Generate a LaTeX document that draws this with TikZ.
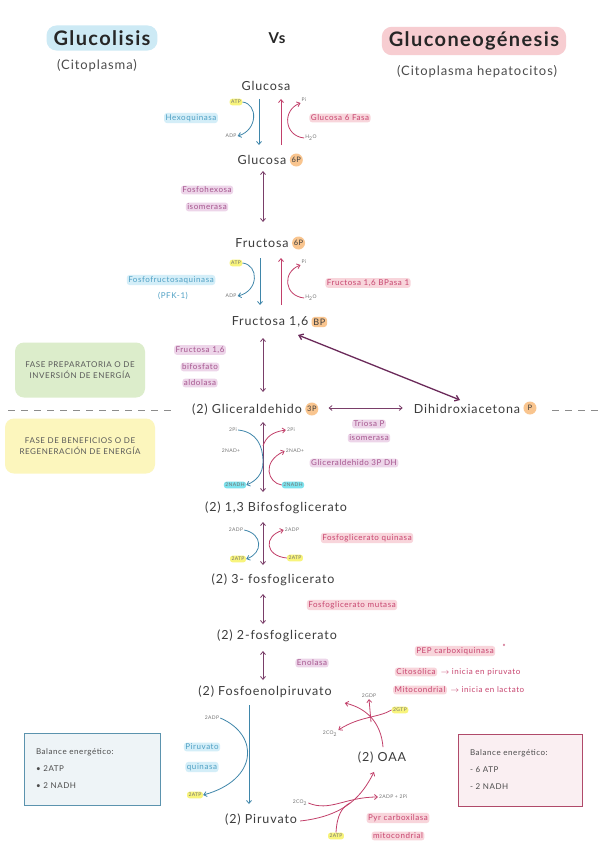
\documentclass[tikz,border=0pt]{standalone}
\usepackage{fontspec}
\setmainfont{Lato}[LetterSpace=7]
\usetikzlibrary{arrows.meta,calc}
\definecolor{tblue}{HTML}{CDEAF5}
\definecolor{tpink}{HTML}{F7CDD1}
\definecolor{mettx}{HTML}{3C3C3C}
\definecolor{bluehl}{HTML}{D4EEF8}
\definecolor{bluetx}{HTML}{4FA0C4}
\definecolor{pinkhl}{HTML}{F8D5DB}
\definecolor{pinktx}{HTML}{C7456F}
\definecolor{purhl}{HTML}{EDD5E9}
\definecolor{purtx}{HTML}{A5558E}
\definecolor{barrc}{HTML}{3F86AA}
\definecolor{rarrc}{HTML}{C2406A}
\definecolor{parrc}{HTML}{7A3E69}
\definecolor{diagc}{HTML}{6B2A5A}
\definecolor{orangec}{HTML}{F9C58F}
\definecolor{yellowhl}{HTML}{F8F47C}
\definecolor{cyanhl}{HTML}{7EE3EE}
\definecolor{greenblob}{HTML}{DCEDCB}
\definecolor{yellowblob}{HTML}{FCF6BD}
\definecolor{boxbl}{HTML}{5B93AE}
\definecolor{boxblf}{HTML}{EEF4F7}
\definecolor{boxrd}{HTML}{B04A6A}
\definecolor{boxrdf}{HTML}{FAEFF2}
\begin{document}
\begin{tikzpicture}[x=1pt,y=-1pt,
  title/.style={font=\bfseries\fontsize{20}{22}\selectfont, text=black!85, rounded corners=10pt, inner xsep=7pt, inner ysep=5pt},
  sub/.style={font=\fontsize{13}{15}\selectfont, text=black!70},
  met/.style={font=\fontsize{12.5}{14}\selectfont, text=mettx, inner sep=1pt},
  phos/.style={circle, fill=orangec, inner sep=0.3pt, minimum size=13pt, font=\fontsize{7.5}{8}\selectfont, text=mettx, anchor=west},
  phosr/.style={rectangle, rounded corners=3pt, fill=orangec, inner sep=1.8pt, font=\fontsize{9}{9}\selectfont, text=mettx, anchor=west},
  enzb/.style={fill=bluehl, text=bluetx, rounded corners=3pt, inner sep=1.5pt, font=\fontsize{8}{9}\selectfont},
  enzp/.style={fill=pinkhl, text=pinktx, rounded corners=3pt, inner sep=1.5pt, font=\fontsize{8}{9}\selectfont},
  enzv/.style={fill=purhl, text=purtx, rounded corners=3pt, inner sep=1.5pt, font=\fontsize{8}{9}\selectfont},
  tiny/.style={font=\fontsize{5}{5.5}\selectfont, text=black!55, inner sep=1pt},
  atpl/.style={tiny, fill=yellowhl, rounded corners=2.5pt, inner sep=1.5pt},
  nadhl/.style={tiny, fill=cyanhl, rounded corners=2.5pt, inner sep=1.5pt},
  phase/.style={font=\fontsize{8}{11}\selectfont, text=black!65, align=center, rounded corners=9pt},
  barr/.style={draw=barrc, line width=0.8pt, -{Straight Barb[length=3pt,width=5pt]}},
  rarr/.style={draw=rarrc, line width=0.8pt, -{Straight Barb[length=3pt,width=5pt]}},
  rline/.style={draw=rarrc, line width=0.8pt},
  parr/.style={draw=parrc, line width=0.8pt, {Straight Barb[length=3pt,width=5pt]}-{Straight Barb[length=3pt,width=5pt]}},
  darr/.style={draw=diagc, line width=1.3pt, {Straight Barb[length=4pt,width=6pt]}-{Straight Barb[length=4pt,width=6pt]}},
  balbox/.style={line width=1pt, minimum height=72pt, text width=112pt, align=left, font=\fontsize{8}{17}\selectfont, text=black!70, inner xsep=12pt}
]
\useasboundingbox (0,0) rectangle (600,848);
\fill[white] (0,0) rectangle (600,848);

% titles
\node[title, fill=tblue] (tgl) at (102,38) {Glucolisis};
\node[font=\bfseries\fontsize{15}{17}\selectfont, text=black!85] (vs) at (277,38) {Vs};
\node[title, fill=tpink] (tgn) at (474,41) {Gluconeogénesis};
\node[sub] (c1) at (97,66) {(Citoplasma)};
\node[sub] (c2) at (477,72) {(Citoplasma hepatocitos)};

% phase blobs
\node[phase, fill=greenblob, minimum width=130pt, minimum height=55pt] (ph1) at (80,370) {FASE PREPARATORIA O DE\\INVERSIÓN DE ENERGÍA};
\node[phase, fill=yellowblob, minimum width=150pt, minimum height=55pt] (ph2) at (80,446) {FASE DE BENEFICIOS O DE\\REGENERACIÓN DE ENERGÍA};

% dashed divider
\draw[black!45, line width=0.8pt, dash pattern=on 7pt off 6pt] (8,410) -- (172,410);
\draw[black!45, line width=0.8pt, dash pattern=on 7pt off 6pt] (552,410) -- (600,410);

% metabolites
\node[met] (glu) at (266,86) {Glucosa};
\node[met] (g6) at (262,160) {Glucosa};
\node[phos] (g6c) at ($(g6.east)+(2,0)$) {6P};
\node[met] (f6) at (262,243) {Fructosa};
\node[phos] (f6c) at ($(f6.east)+(2,0)$) {6P};
\node[met] (f16) at (270,322) {Fructosa 1,6};
\node[phosr] (f16c) at ($(f16.east)+(2,0)$) {BP};
\node[met] (g3) at (247,410) {(2) Gliceraldehido};
\node[phos] (g3c) at ($(g3.east)+(2,-1)$) {3P};
\node[met] (dha) at (467,409) {Dihidroxiacetona};
\node[phos] (dhac) at ($(dha.east)+(2,-1)$) {P};
\node[met] (bpg) at (276,508) {(2) 1,3 Bifosfoglicerato};
\node[met] (pg3) at (273,580) {(2) 3- fosfoglicerato};
\node[met] (pg2) at (277,636) {(2) 2-fosfoglicerato};
\node[met] (pep) at (265,692) {(2) Fosfoenolpiruvato};
\node[met] (pir) at (261,820) {(2) Piruvato};
\node[met] (oaa) at (382,758) {(2) OAA};

% enzymes
\node[enzb] (hk) at (191,118) {Hexoquinasa};
\node[enzp] (g6p) at (340,118) {Glucosa 6 Fasa};
\node[enzv] (pgi1) at (207,190) {Fosfohexosa};
\node[enzv] (pgi2) at (207,207) {isomerasa};
\node[enzb] (pfk) at (171,280) {Fosfofructosaquinasa};
\node[text=bluetx, font=\fontsize{8}{9}\selectfont] (pfk2) at (173,296) {(PFK-1)};
\node[enzp] (fbp) at (368,283) {Fructosa 1,6 BPasa 1};
\node[enzv] (ald1) at (200,350) {Fructosa 1,6};
\node[enzv] (ald2) at (200,367) {bifosfato};
\node[enzv] (ald3) at (200,383) {aldolasa};
\node[enzv] (tpi1) at (369,424) {Triosa P};
\node[enzv] (tpi2) at (369,438) {isomerasa};
\node[enzv] (gapdh) at (354,463) {Gliceraldehido 3P DH};
\node[enzp] (pgk) at (367,538) {Fosfoglicerato quinasa};
\node[enzp] (pgm) at (352,605) {Fosfoglicerato mutasa};
\node[enzv] (eno) at (312,663) {Enolasa};
\node[enzb] (pk1) at (202,747) {Piruvato};
\node[enzb] (pk2) at (202,767) {quinasa};
\node[enzp] (pepck) at (455,651) {PEP carboxiquinasa};
\node[text=rarrc, font=\bfseries\fontsize{7}{7}\selectfont] (ast) at (504,647) {*};
\node[enzp] (cit) at (416,672) {Citosólica};
\node[text=pinktx, font=\fontsize{8}{9}\selectfont, anchor=west] (cit2) at (cit.east) {$\rightarrow$ inicia en piruvato};
\node[enzp] (mit) at (420,690) {Mitocondrial};
\node[text=pinktx, font=\fontsize{8}{9}\selectfont, anchor=west] (mit2) at (mit.east) {$\rightarrow$ inicia en lactato};
\node[enzp] (pc1) at (398,818) {Pyr carboxilasa};
\node[enzp] (pc2) at (398,836) {mitocondrial};

% small cofactors
\node[atpl] (atp1) at (236,102) {ATP};
\node[tiny] (adp1) at (231,136) {ADP};
\node[tiny] (pi1) at (304,100) {Pi};
\node[tiny] (h2o1) at (311,138) {H\textsubscript{2}O};
\node[atpl] (atp2) at (236,263) {ATP};
\node[tiny] (adp2) at (231,296) {ADP};
\node[tiny] (pi2) at (304,262) {Pi};
\node[tiny] (h2o2) at (311,298) {H\textsubscript{2}O};
\node[tiny] (pi3L) at (233,430) {2Pi};
\node[tiny] (nad3L) at (231,451) {2NAD+};
\node[nadhl] (nadh3L) at (235,485) {2NADH};
\node[tiny] (pi3R) at (291,430) {2Pi};
\node[tiny] (nad3R) at (295,451) {2NAD+};
\node[nadhl] (nadh3R) at (293,485) {2NADH};
\node[tiny] (adp4L) at (236,530) {2ADP};
\node[atpl] (atp4L) at (238,559) {2ATP};
\node[tiny] (adp4R) at (292,530) {2ADP};
\node[atpl] (atp4R) at (295,558) {2ATP};
\node[tiny] (adp5) at (212,718) {2ADP};
\node[atpl] (atp5) at (195,795) {2ATP};
\node[tiny] (gdp) at (369,696) {2GDP};
\node[atpl] (gtp) at (400,710) {2GTP};
\node[tiny] (co2c) at (330,734) {2CO\textsubscript{2}};
\node[tiny] (co2b) at (300,803) {2CO\textsubscript{2}};
\node[tiny, anchor=west] (adpb) at (378,797) {2ADP + 2Pi};
\node[atpl] (atpb) at (336,836) {2ATP};

% main connectors
\draw[barr] ($(glu)+(-7,13)$) -- ($(g6)+(-3,-15)$);
\draw[rarr] ($(g6)+(19,-15)$) -- ($(glu)+(15,13)$);
\draw[barr] (atp1.east) .. controls (258,104) and (258,130) .. (adp1.east);
\draw[rarr] (h2o1.west) .. controls (284,136) and (282,110) .. (pi1.south west);

\draw[parr] ($(g6)+(1,11)$) -- ($(f6)+(1,-21)$);

\draw[barr] ($(f6)+(-2,15)$) -- ($(f16)+(-10,-17)$);
\draw[rarr] ($(f16)+(11,-17)$) -- ($(f6)+(19,15)$);
\draw[barr] (atp2.east) .. controls (259,265) and (259,291) .. (adp2.east);
\draw[rarr] (h2o2.west) .. controls (284,296) and (282,272) .. (pi2.south west);

\draw[parr] ($(f16)+(-7,16)$) -- ($(g3)+(16,-18)$);
\draw[darr] ($(f16)+(28,13)$) -- ($(dha)+(-7,-9)$);
\draw[parr] ($(g3c.east)+(10,-1)$) -- ($(dha.west)+(-10,-1)$);

\draw[parr] ($(g3)+(16,12)$) -- ($(bpg)+(-13,-16)$);
\coordinate (m3) at (263,446);
\draw[barr] (pi3L.east) .. controls (257,432) and (263,446) .. (263,462) .. controls (263,474) and (256,481) .. (nadh3L.east);
\draw[rarr] (nadh3R.west) .. controls (268,483) and (261,462) .. (nad3R.west);
\draw[rarr] (m3) .. controls (266,437) and (272,432) .. (pi3R.west);

\draw[parr] ($(bpg)+(-13,14)$) -- ($(pg3)+(-10,-15)$);
\draw[barr] (adp4L.east) .. controls (263,534) and (263,553) .. (atp4L.east);
\draw[rarr] (atp4R.west) .. controls (265,556) and (263,536) .. (adp4R.west);

\draw[parr] ($(pg3)+(-10,14)$) -- ($(pg2)+(-14,-12)$);
\draw[parr] ($(pg2)+(-14,15)$) -- ($(pep)+(-2,-12)$);

\draw[barr] ($(pep)+(-16,13)$) -- ($(pir)+(-12,-16)$);
\draw[barr] (adp5.east) .. controls (260,735) and (258,780) .. (atp5.east);

% gluconeogenesis bypass
\draw[rarr] ($(pir.east)+(2,1)$) .. controls (345,816) and (362,796) .. ($(oaa.south)+(-8,7)$);
\draw[rarr] (co2b.east) .. controls (330,812) and (345,797) .. (adpb.west);
\coordinate (mb) at (350,803);
\draw[rline] (atpb.north) .. controls (337,815) and (342,807) .. (mb);

\coordinate (mc) at (371,722);
\draw[rarr] ($(oaa.north)+(1,-4)$) .. controls (381,722) and (366,708) .. ($(pep.east)+(12,11)$);
\draw[rarr] (gtp.west) .. controls (378,718) and (360,716) .. (co2c.north east);
\draw[rarr] (mc) -- (gdp.south);

% balance boxes
\node[balbox, draw=boxbl, fill=boxblf] (bl) at (92,769) {Balance energético:\\• 2ATP\\• 2 NADH};
\node[balbox, draw=boxrd, fill=boxrdf, text width=100pt] (br) at (520,770) {Balance energético:\\- 6 ATP\\- 2 NADH};
\end{tikzpicture}
\end{document}
